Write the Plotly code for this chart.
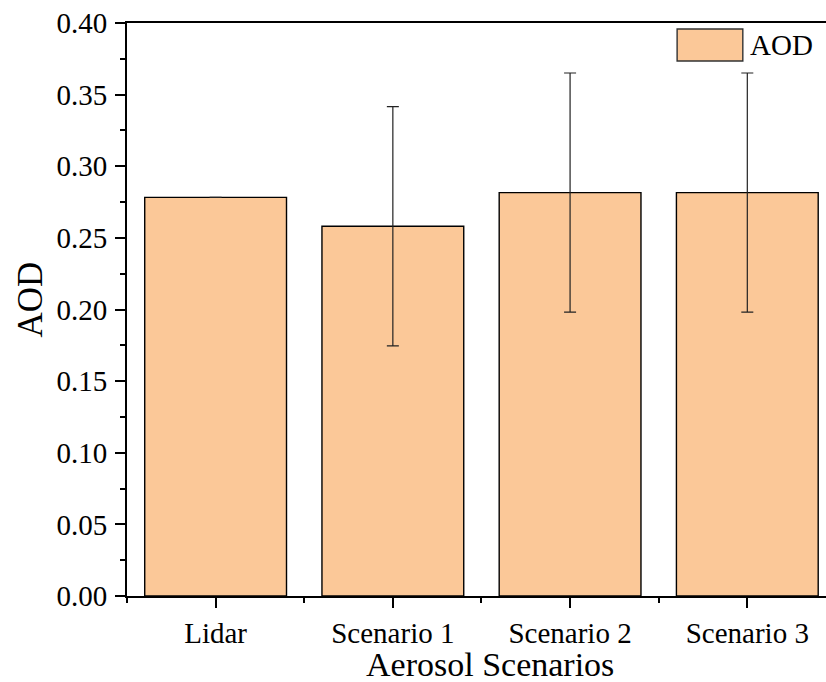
import plotly.graph_objects as go

# Aerosol optical depth per scenario
categories = ["Lidar", "Scenario 1", "Scenario 2", "Scenario 3"]
aod_values = [0.2783, 0.2581, 0.2816, 0.2816]
aod_errors = [0.0, 0.0835, 0.0835, 0.0835]
show_error = [False, True, True, True]

y_tick_values = [0.00, 0.05, 0.10, 0.15, 0.20, 0.25, 0.30, 0.35, 0.40]

positions = list(range(len(categories)))
err_arr = [e if s else None for e, s in zip(aod_errors, show_error)]

FONT = "Liberation Serif"
FILL = "#FBC898"

fig = go.Figure()
fig.add_trace(go.Bar(
    x=positions,
    y=aod_values,
    width=0.8,
    marker=dict(color=FILL, line=dict(color="black", width=1.4)),
    error_y=dict(type="data", array=err_arr, visible=True,
                 color="#222222", thickness=1.2, width=6),
    name="AOD",
    showlegend=False,
))

fig.update_layout(
    width=826, height=682,
    margin=dict(l=127, r=0, t=23, b=86),
    paper_bgcolor="white", plot_bgcolor="white",
    font=dict(family=FONT, color="black", size=29),
    xaxis=dict(
        range=[-0.5, 3.444],
        tickvals=positions, ticktext=categories,
        ticks="outside", ticklen=10, tickwidth=2, tickcolor="black",
        minor=dict(tick0=-0.5, dtick=1, ticks="outside", ticklen=5,
                   tickwidth=1.5, tickcolor="black"),
        showline=True, linecolor="black", linewidth=2, mirror=True,
        showgrid=False, zeroline=False,
        tickfont=dict(size=29, family=FONT),
    ),
    yaxis=dict(
        range=[0, 0.40],
        tickvals=y_tick_values, tickformat=".2f",
        ticks="outside", ticklen=10, tickwidth=2, tickcolor="black",
        minor=dict(dtick=0.025, ticks="outside", ticklen=5,
                   tickwidth=1.5, tickcolor="black"),
        showline=True, linecolor="black", linewidth=2, mirror=False,
        showgrid=False, zeroline=False,
        tickfont=dict(size=29, family=FONT),
        ticklabelstandoff=2,
    ),
)

# Axis titles
fig.add_annotation(xref="paper", yref="paper", x=0.5193, y=-0.1187,
                   text="Aerosol Scenarios", showarrow=False,
                   xanchor="center", yanchor="middle", borderpad=0,
                   font=dict(size=34, family=FONT))
fig.add_annotation(xref="paper", yref="paper", x=-0.138, y=0.5166,
                   text="AOD", showarrow=False, textangle=-90,
                   xanchor="center", yanchor="middle",
                   font=dict(size=35, family=FONT))

# Legend swatch and label
fig.add_shape(type="rect", xref="paper", yref="paper",
              x0=0.787, x1=0.881, y0=0.9337, y1=0.9895,
              fillcolor=FILL, line=dict(color="#333333", width=1.4))
fig.add_annotation(xref="paper", yref="paper", x=0.889, y=0.9616,
                   text="AOD", showarrow=False, xanchor="left", yanchor="middle",
                   font=dict(size=29, family=FONT))

fig.write_html("out.html")
